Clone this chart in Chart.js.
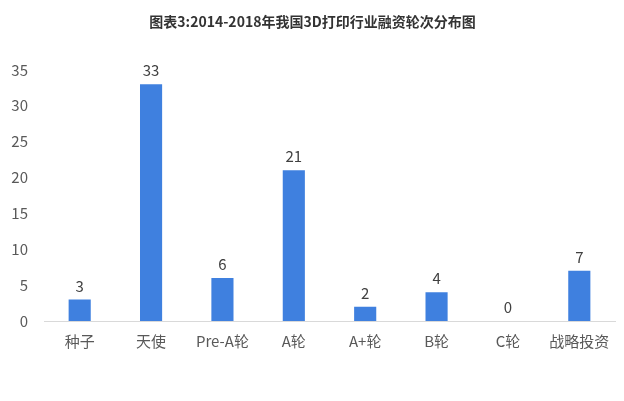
<!DOCTYPE html>
<html>
<head>
<meta charset="utf-8">
<script src="https://cdn.jsdelivr.net/npm/chart.js@4/dist/chart.umd.min.js"></script>
<style>
html,body{margin:0;padding:0;background:#fff;}
#wrap{width:624px;height:401px;}
</style>
</head>
<body>
<div id="wrap"><canvas id="c" width="624" height="401"></canvas></div>
<script>
const titleText = "图表3:2014-2018年我国3D打印行业融资轮次分布图";
const categories = ["种子", "天使", "Pre-A轮", "A轮", "A+轮", "B轮", "C轮", "战略投资"];
const counts = [3, 33, 6, 21, 2, 4, 0, 7];
const yTicks = [0, 5, 10, 15, 20, 25, 30, 35];

const FONT = "'Noto Sans CJK SC', 'Microsoft YaHei', sans-serif";

const valueLabels = {
  id: 'valueLabels',
  afterDatasetsDraw(chart) {
    const ctx = chart.ctx;
    const meta = chart.getDatasetMeta(0);
    ctx.save();
    ctx.font = "15px " + FONT;
    ctx.fillStyle = "#404040";
    ctx.textAlign = "center";
    ctx.textBaseline = "bottom";
    meta.data.forEach((el, i) => {
      ctx.fillText(String(counts[i]), el.x, el.y - 6);
    });
    ctx.restore();
  }
};

new Chart(document.getElementById('c'), {
  type: 'bar',
  data: {
    labels: categories,
    datasets: [{
      data: counts,
      backgroundColor: '#3F80DF',
      barPercentage: 0.62,
      categoryPercentage: 0.5
    }]
  },
  options: {
    responsive: false,
    animation: false,
    devicePixelRatio: 1,
    layout: { padding: { left: 10, right: 9, bottom: 40, top: 0 } },
    plugins: {
      legend: { display: false },
      tooltip: { enabled: false },
      title: {
        display: true,
        text: titleText,
        color: '#333333',
        font: { family: FONT, size: 14, weight: 'bold' },
        padding: { top: 13, bottom: 40 }
      }
    },
    scales: {
      x: {
        grid: { display: false, drawTicks: false },
        border: { display: true, color: '#d9d9d9', width: 1 },
        ticks: { color: '#595959', font: { family: FONT, size: 15 }, padding: 11, maxRotation: 0 }
      },
      y: {
        min: 0, max: 35,
        afterBuildTicks(scale) { scale.ticks = yTicks.map(v => ({ value: v })); },
        afterFit(scale) { scale.width = 34; },
        grid: { display: false, drawTicks: false },
        border: { display: false },
        ticks: { color: '#595959', font: { family: FONT, size: 15 }, padding: 16 }
      }
    }
  },
  plugins: [valueLabels]
});
</script>
</body>
</html>
